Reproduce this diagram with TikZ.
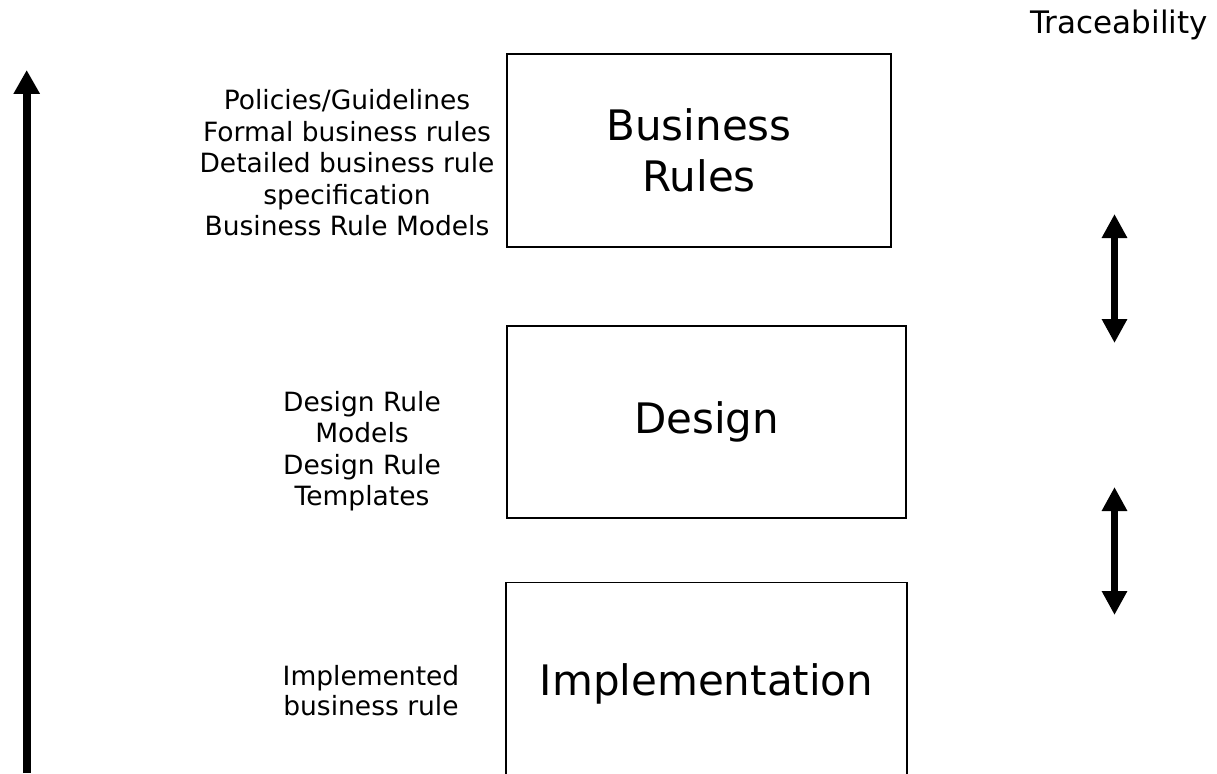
\documentclass[tikz,border=0pt]{standalone}
\usepackage{fontspec}
\setmainfont{DejaVu Sans}
\usetikzlibrary{arrows.meta}
\tikzset{
  box/.style={draw=black, line width=1.3pt, inner sep=0pt, align=center,
    font=\fontsize{42}{51}\selectfont},
  side/.style={inner sep=0pt, align=center, font=\fontsize{26.5}{31.5}\selectfont},
  bigarrow/.style={line width=8pt, -{Triangle[width=25pt,length=24pt]}},
  dblarrow/.style={line width=7pt, {Triangle[width=24pt,length=24pt]}-{Triangle[width=24pt,length=24pt]}}
}
\begin{document}
\begin{tikzpicture}[x=1pt,y=-1pt]
\useasboundingbox (0,0) rectangle (1217,773);
\clip (0,0) rectangle (1217,773);
\node[box, minimum width=384pt, minimum height=193pt] (br) at (699,150.5) {Business\\Rules};
\node[box, minimum width=399pt, minimum height=192pt] (de) at (706.5,422) {Design};
\node[box, minimum width=401pt, minimum height=300pt, anchor=north] (im) at (706.5,582) {};
\node[font=\fontsize{42}{50}\selectfont, anchor=base] (imt) at (706.5,695) {Implementation};
\node[side] (brt) at (347,163) {Policies/Guidelines\\Formal business rules\\Detailed business rule\\specification\\Business Rule Models};
\node[side] (det) at (362,451) {Design Rule\\Models\\Design Rule\\Templates};
\node[side, font=\fontsize{26.5}{30}\selectfont] (imd) at (371,691) {Implemented\\business rule};
\node[font=\fontsize{31}{36}\selectfont, anchor=base east, inner sep=0pt] (tr) at (1208,34) {Traceability};
\coordinate (la1) at (26.7,773);
\coordinate (la2) at (26.7,70);
\draw[bigarrow] (la1) -- (la2);
\coordinate (d1a) at (1114.5,214);
\coordinate (d1b) at (1114.5,343);
\draw[dblarrow] (d1a) -- (d1b);
\coordinate (d2a) at (1114.5,487);
\coordinate (d2b) at (1114.5,615);
\draw[dblarrow] (d2a) -- (d2b);
\end{tikzpicture}
\end{document}
